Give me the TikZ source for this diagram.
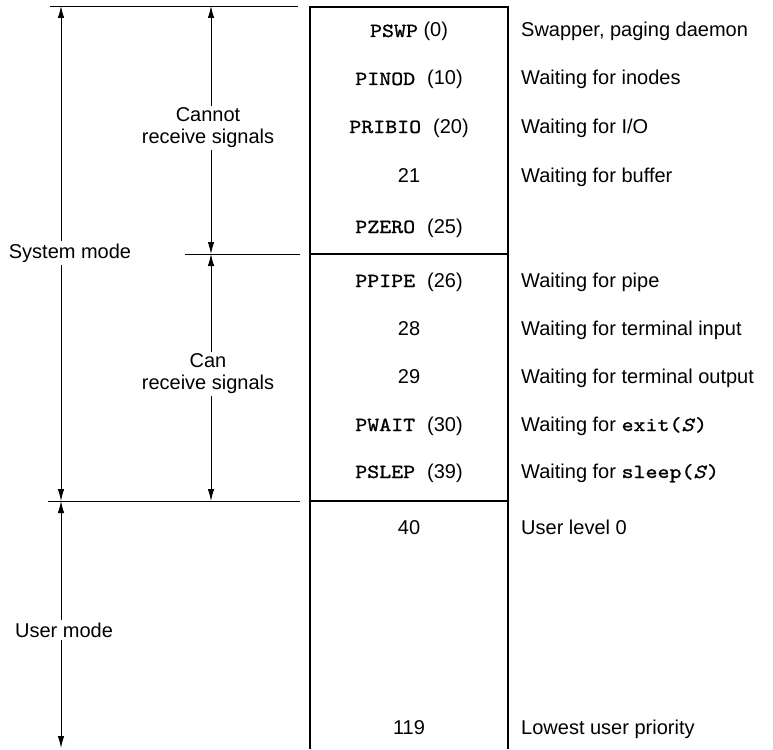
\documentclass[tikz,border=0pt]{standalone}
\usepackage{fontspec}
\setmainfont{Liberation Sans}
% typewriter face with slab serifs, slightly emboldened
\newfontfamily\codeface{lmmono10-regular.otf}[FakeBold=1.1,
  ItalicFont=lmmono10-italic.otf, ItalicFeatures={FakeBold=1.1}]
\newcommand{\code}[1]{\scalebox{1.14}[1]{\codeface #1}}
\usetikzlibrary{arrows.meta}
\begin{document}
\begin{tikzpicture}[x=1pt,y=-1pt,
  font=\fontsize{20}{22}\selectfont,
  guide/.style={line width=0.9pt},
  frame/.style={line width=1.7pt},
  dim/.style={line width=0.9pt,-{Latex[length=12pt,width=6.5pt]}},
  lbl/.style={inner sep=2pt,align=center},
  prio/.style={anchor=base,inner sep=0pt},
  desc/.style={anchor=base west,inner sep=0pt}]
\useasboundingbox (0,0) rectangle (773,749);

% boundary guide lines on the left
\coordinate (gTopL) at (50,6);    \coordinate (gTopR) at (298,6);
\coordinate (gMidL) at (185,254); \coordinate (gMidR) at (300,254);
\coordinate (gLowL) at (48,501);  \coordinate (gLowR) at (300,501);
\coordinate (gEnd)  at (61,748);
\draw[guide] (gTopL) -- (gTopR);
\draw[guide] (gMidL) -- (gMidR);
\draw[guide] (gLowL) -- (gLowR);

% priority column
\draw[frame] (310,749) -- (310,7) -- (508,7) -- (508,749);
\draw[frame] (310,254) -- (508,254);
\draw[frame] (310,501) -- (508,501);

% mode labels with their extent arrows
\coordinate (sysTop) at (61,6);
\coordinate (sysBot) at (61,501);
\node[lbl] (sysmode) at (70,253) {System mode};
\draw[dim] (sysmode.north -| sysTop) -- (sysTop);
\draw[dim] (sysmode.south -| sysTop) -- (sysBot);

\node[lbl] (usrmode) at (64,630) {User mode};
\draw[dim] (usrmode.north -| sysTop) -- (sysBot);
\draw[dim] (usrmode.south -| sysTop) -- (gEnd);

\coordinate (sigTop) at (211,6);
\coordinate (sigMid) at (211,254);
\coordinate (sigBot) at (211,501);
\node[lbl] (nosig) at (208,128) {Cannot\\receive signals};
\draw[dim] (nosig.north -| sigTop) -- (sigTop);
\draw[dim] (nosig.south -| sigTop) -- (sigMid);

\node[lbl] (cansig) at (208,374) {Can\\receive signals};
\draw[dim] (cansig.north -| sigTop) -- (sigMid);
\draw[dim] (cansig.south -| sigTop) -- (sigBot);

% priority values
\node[prio] (p0)   at (409,37)  {\code{PSWP} (0)};
\node[prio] (p10)  at (409,85)  {\code{PINOD }(10)};
\node[prio] (p20)  at (409,133) {\code{PRIBIO }(20)};
\node[prio] (p21)  at (409,182) {21};
\node[prio] (p25)  at (409,233) {\code{PZERO }(25)};
\node[prio] (p26)  at (409,287) {\code{PPIPE }(26)};
\node[prio] (p28)  at (409,335) {28};
\node[prio] (p29)  at (409,383) {29};
\node[prio] (p30)  at (409,431) {\code{PWAIT }(30)};
\node[prio] (p39)  at (409,478) {\code{PSLEP }(39)};
\node[prio] (p40)  at (409,534) {40};
\node[prio] (p119) at (409,734) {119};

% descriptions
\node[desc] (d0)   at (521,37)  {Swapper, paging daemon};
\node[desc] (d10)  at (521,85)  {Waiting for inodes};
\node[desc] (d20)  at (521,133) {Waiting for I/O};
\node[desc] (d21)  at (521,182) {Waiting for buffer};
\node[desc] (d26)  at (521,287) {Waiting for pipe};
\node[desc] (d28)  at (521,335) {Waiting for terminal input};
\node[desc] (d29)  at (521,383) {Waiting for terminal output};
\node[desc] (d30)  at (521,431) {Waiting for \code{exit(\textit{S})}};
\node[desc] (d39)  at (521,478) {Waiting for \code{sleep(\textit{S})}};
\node[desc] (d40)  at (521,534) {User level 0};
\node[desc] (d119) at (521,734) {Lowest user priority};
\end{tikzpicture}
\end{document}
